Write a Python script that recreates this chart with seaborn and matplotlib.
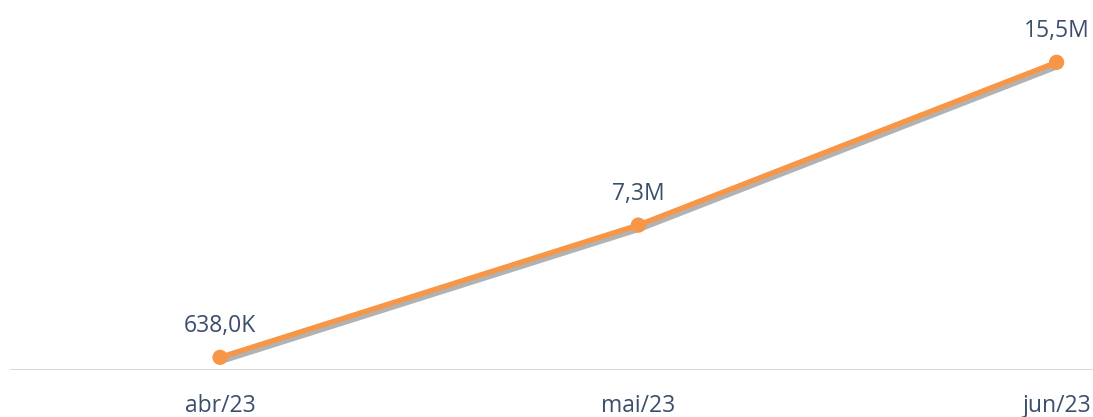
import pandas as pd
import seaborn as sns
import matplotlib.pyplot as plt
import matplotlib.patheffects as pe

# chart values
months = ["abr/23", "mai/23", "jun/23"]
values = [0.638, 7.3, 15.5]   # in millions
labels = ["638,0K", "7,3M", "15,5M"]

df = pd.DataFrame({"pos": range(len(months)), "value": values})

sns.set_style("white")
plt.rcParams['font.family'] = ['Open Sans', 'DejaVu Sans']

fig = plt.figure(figsize=(10.93, 4.17), dpi=100)
ax = fig.add_axes([0.0092, 0.1127, 0.9908, 0.8873])

shadow = [pe.SimpleLineShadow(offset=(2, -2.5), shadow_color="#555555", alpha=0.45),
          pe.Normal()]
sns.lineplot(data=df, x="pos", y="value", ax=ax, color="#F79646", linewidth=3.8,
             marker="o", markersize=11, markeredgewidth=0, path_effects=shadow)

text_color = "#3B4E6B"
for x, y, lab in zip(df["pos"], df["value"], labels):
    ax.annotate(lab, (x, y), xytext=(0, 22.5), textcoords="offset points",
                ha="center", va="center", fontsize=16.5, color=text_color)

ax.set_xlim(-0.502, 2.087)
ax.set_ylim(0, 18.64)
ax.axhline(0, color="#d4d4d4", linewidth=2, zorder=0)

ax.set_xticks(range(len(months)))
ax.set_xticklabels(months, fontsize=16.5, color=text_color)
ax.tick_params(axis="x", length=0, pad=17.5)
ax.set_yticks([])
ax.set_xlabel("")
ax.set_ylabel("")
for s in ax.spines.values():
    s.set_visible(False)

plt.savefig("out.png", dpi=100)
